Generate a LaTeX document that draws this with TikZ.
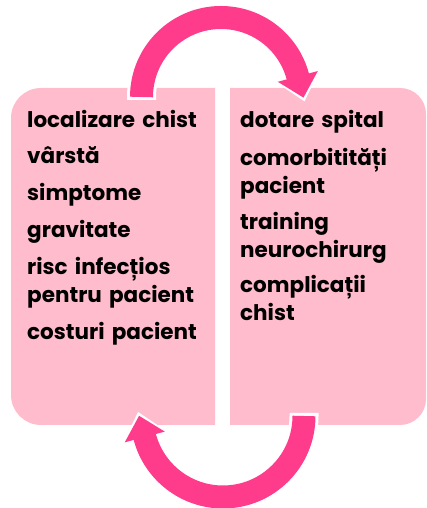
\documentclass[tikz,border=0pt]{standalone}
\usepackage{fontspec}
\setmainfont{Poppins}
\usetikzlibrary{arrows.meta,calc}
\definecolor{boxpink}{HTML}{FFBCCD}
\definecolor{arrowpink}{HTML}{FF3B8B}
\tikzset{
  item/.style={anchor=base west, inner sep=0pt, text width=195pt, align=left,
    font=\fontsize{21.5}{28}\selectfont\bfseries, text=black},
  arrowwhite/.style={line width=29pt, white, -{Triangle[width=50pt,length=30pt]}},
  arrowcol/.style={line width=23pt, arrowpink, -{Triangle[width=40pt,length=22pt]}}
}
\begin{document}
\begin{tikzpicture}[x=1pt,y=1pt]
\useasboundingbox (0,0) rectangle (426,508);
% boxes
\fill[boxpink] (113,420) [rounded corners=30pt] -- (11,420) -- (11,83) -- (113,83) [sharp corners] -- (215,83) -- (215,420) -- cycle;
\fill[boxpink] (328,420) [sharp corners] -- (230,420) -- (230,83) -- (328,83) [rounded corners=26pt] -- (426,83) -- (426,420) -- cycle;
% top arrow
\coordinate (ts) at (141.5,411);
\coordinate (bs) at (304,92);
\draw[arrowwhite] ($(ts)+(0,-3)$) -- (ts) arc[start angle=180,end angle=15,radius=79.5] -- ++(-75:26);
\draw[arrowcol] (ts) arc[start angle=180,end angle=15,radius=79.5] -- ++(-75:22);
% bottom arrow
\draw[arrowwhite] ($(bs)+(0,3)$) -- (bs) arc[start angle=0,end angle=-165,radius=81] -- ++(105:26);
\draw[arrowcol] (bs) arc[start angle=0,end angle=-165,radius=81] -- ++(105:22);
% left texts
\node[item] (l1) at (27,380) {localizare chist};
\node[item] (l2) at (27,344) {vârstă};
\node[item] (l3) at (27,307) {simptome};
\node[item] (l4) at (27,270) {gravitate};
\node[item] (l5) at (27,233) {risc infecțios\\pentru pacient};
\node[item] (l6) at (27,168) {costuri pacient};
% right texts
\node[item] (r1) at (240,380) {dotare spital};
\node[item] (r2) at (240,342) {comorbitități\\pacient};
\node[item] (r3) at (240,278) {training\\neurochirurg};
\node[item] (r4) at (240,215) {complicații\\chist};
\end{tikzpicture}
\end{document}
